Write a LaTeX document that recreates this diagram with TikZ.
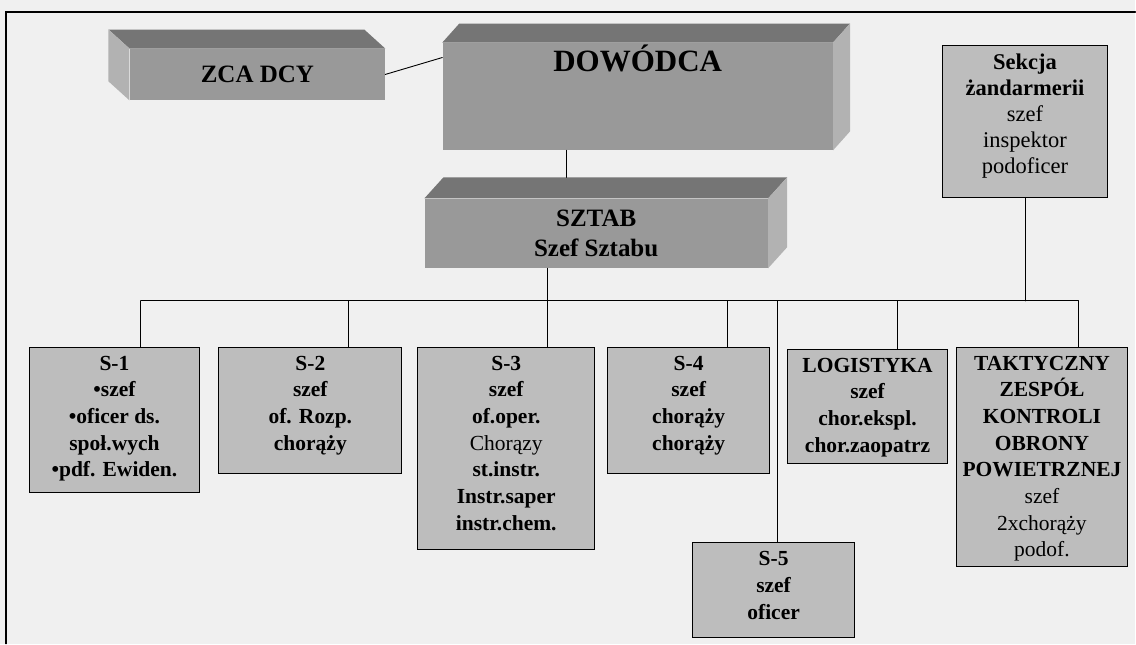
\documentclass[tikz,border=0pt]{standalone}
\usepackage{fontspec}
\setmainfont{Liberation Serif}
\usetikzlibrary{positioning}

\tikzset{
  paper/.style={fill=black!6},
  face/.style={fill=black!40,inner sep=0pt},
  topface/.style={fill=black!54},
  sideface/.style={fill=black!30},
  unit/.style={draw,fill=black!26,inner sep=0pt,line width=0.9pt},
  unittxt/.style={align=center,inner sep=0pt,font=\bfseries\fontsize{21.5}{26.7}\selectfont},
}

\begin{document}
\begin{tikzpicture}[x=1pt,y=-1pt,line cap=round,line width=0.9pt]
\fill[paper] (0,0) rectangle (1136,644);
\draw[line width=1.2pt] (6,644) -- (6,12) -- (1136,12);

% zastepca dowodcy
\node[face,minimum width=255pt,minimum height=51pt,font=\bfseries\fontsize{25}{30}\selectfont] (zca) at (257.5,74.5) {ZCA DCY};
\fill[topface] (zca.north west) -- (zca.north east) -- ++(-21,-19) -- ([shift={(-21,-19)}]zca.north west) -- cycle;
\fill[sideface] (zca.north west) -- (zca.south west) -- ++(-21,-19) -- ([shift={(-21,-19)}]zca.north west) -- cycle;

% dowodca
\node[face,minimum width=390pt,minimum height=107pt] (dow) at (638,96.5) {};
\node[inner sep=0pt,font=\bfseries\fontsize{31}{36}\selectfont,below=2pt of dow.north] (dowtxt) {DOWÓDCA};
\fill[topface] (dow.north west) -- (dow.north east) -- ++(17,-19) -- ([shift={(17,-19)}]dow.north west) -- cycle;
\fill[sideface] (dow.north east) -- (dow.south east) -- ++(17,-19) -- ([shift={(17,-19)}]dow.north east) -- cycle;

% sztab
\node[face,minimum width=343pt,minimum height=69pt,align=center,font=\bfseries\fontsize{25}{30}\selectfont] (sztab) at (596.5,233.5) {SZTAB\\Szef Sztabu};
\fill[topface] (sztab.north west) -- (sztab.north east) -- ++(19,-21) -- ([shift={(19,-21)}]sztab.north west) -- cycle;
\fill[sideface] (sztab.north east) -- (sztab.south east) -- ++(19,-21) -- ([shift={(19,-21)}]sztab.north east) -- cycle;

% sekcja zandarmerii
\node[unit,minimum width=165pt,minimum height=153pt] (sekcja) at (1025.5,121.5) {};
\node[unittxt,font=\fontsize{22.5}{26}\selectfont,below=9pt of sekcja.north] (sekcjatxt) {{\bfseries Sekcja}\\{\bfseries żandarmerii}\\szef\\inspektor\\podoficer};

% sekcje sztabu
\node[unit,minimum width=171pt,minimum height=145pt] (s1) at (114.5,420.5) {};
\node[unittxt,below=8pt of s1.north] (s1txt) {S-1\\•szef\\•oficer ds.\\społ.wych\\•pdf. Ewiden.};
\node[unit,minimum width=183pt,minimum height=126pt] (s2) at (310.5,411) {};
\node[unittxt,below=8pt of s2.north] (s2txt) {S-2\\szef\\of. Rozp.\\chorąży};
\node[unit,minimum width=177pt,minimum height=202pt] (s3) at (506.5,449) {};
\node[unittxt,below=8pt of s3.north] (s3txt) {S-3\\szef\\of.oper.\\{\mdseries Chorązy}\\st.instr.\\Instr.saper\\instr.chem.};
\node[unit,minimum width=162pt,minimum height=126pt] (s4) at (689,411) {};
\node[unittxt,below=8pt of s4.north] (s4txt) {S-4\\szef\\chorąży\\chorąży};
\node[unit,minimum width=162pt,minimum height=95pt] (s5) at (774,590.5) {};
\node[unittxt,below=9pt of s5.north] (s5txt) {S-5\\szef\\oficer};
\node[unit,minimum width=160pt,minimum height=114pt] (logi) at (868,407) {};
\node[unittxt,below=8pt of logi.north] (logitxt) {LOGISTYKA\\szef\\chor.ekspl.\\chor.zaopatrz};
\node[unit,minimum width=171pt,minimum height=219pt] (takt) at (1042.5,457.5) {};
\node[unittxt,below=8pt of takt.north] (takttxt) {TAKTYCZNY\\ZESPÓŁ\\KONTROLI\\OBRONY\\POWIETRZNEJ\\{\mdseries szef}\\{\mdseries 2xchorąży}\\{\mdseries podof.}};

% polaczenia
\coordinate (bus) at (0,301);
\draw (zca.east) -- ([yshift=-15pt]dow.north west);
\coordinate (sztab-top) at ([shift={(-29.5,-21)}]sztab.north);
\draw (sztab-top) -- (sztab-top |- dow.south);
\draw ([xshift=-48.5pt]sztab.south) -- ([xshift=-48.5pt]sztab.south |- bus);
\draw (sekcja.south) -- (sekcja.south |- bus);
\foreach \n/\dx in {s1/26.5,s2/38.5,s3/41.5,s4/39,s5/4,logi/30,takt/36.5}{
  \coordinate (\n-up) at ([xshift=\dx pt]\n.north);
  \draw (\n-up) -- (\n-up |- bus);
}
\draw (s1-up |- bus) -- (takt-up |- bus);
\end{tikzpicture}
\end{document}
